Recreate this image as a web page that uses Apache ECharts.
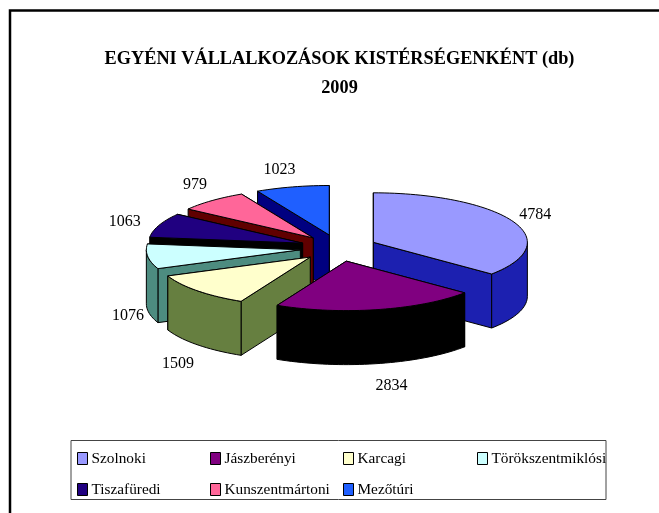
<!DOCTYPE html>
<html>
<head>
<meta charset="utf-8">
<title>Egyéni vállalkozások kistérségenként</title>
<style>
html, body { margin: 0; padding: 0; background: #fff; }
#main { width: 659px; height: 513px; }
</style>
<script src="https://cdn.jsdelivr.net/npm/echarts@6/dist/echarts.min.js"></script>
</head>
<body>
<div id="main"></div>
<script>
var categories = ['Szolnoki', 'Jászberényi', 'Karcagi', 'Törökszentmiklósi', 'Tiszafüredi', 'Kunszentmártoni', 'Mezőtúri'];
var values = [4784, 2834, 1509, 1076, 1063, 979, 1023];
var topColors = ['#9999FF', '#800080', '#FFFFCC', '#CCFFFF', '#200080', '#FF6699', '#1F5FFF'];
var sideColors = ['#1C20B0', '#000000', '#667F40', '#4D8C80', '#000000', '#600000', '#000080'];
var legendColumns = [
    ['Szolnoki', 'Tiszafüredi'],
    ['Jászberényi', 'Kunszentmártoni'],
    ['Karcagi', 'Mezőtúri'],
    ['Törökszentmiklósi']
];
var legendColumnX = [72, 205, 338, 472];

// pie geometry (tilted ellipse, exploded)
var cx = 338.5, cy = 248, rx = 154, ry = 49.5, depth = 54;
var explodeX = 38.5, explodeY = 13.4;
// label distance from centre, in radii, per slice
var labelK = [[1.41, 1.57], [1.69, 1.73], [1.42, 1.84], [1.38, 2], [1.49, 1.47], [1.42, 1.7], [1.6, 1.62]];
var fontFamily = '"Liberation Serif", serif';

var total = values.reduce(function (a, b) { return a + b; }, 0);
var starts = [];
var sum = 0;
values.forEach(function (v) {
    starts.push(echarts.number.linearMap(sum, [0, total], [0, 360]));
    sum += v;
});

function rad(d) { return d * Math.PI / 180; }

function rim(deg, ox, oy) {
    return [ox + rx * Math.sin(rad(deg)), oy - ry * Math.cos(rad(deg))];
}

function arcPoints(a0, a1, ox, oy) {
    var pts = [];
    var n = Math.max(2, Math.ceil((a1 - a0) / 2));
    for (var i = 0; i <= n; i++) {
        pts.push(rim(a0 + (a1 - a0) * i / n, ox, oy));
    }
    return pts;
}

function poly(points, fill) {
    return {
        type: 'polygon',
        shape: { points: points },
        style: { fill: fill, stroke: '#000', lineWidth: 1 }
    };
}

function renderSlice(i) {
    return function (params, api) {
        var a0 = starts[i];
        var a1 = a0 + api.value(0) / total * 360;
        var mid = (a0 + a1) / 2;
        var ox = cx + explodeX * Math.sin(rad(mid));
        var oy = cy - explodeY * Math.cos(rad(mid));
        var apex = [ox, oy];
        var apexLow = [ox, oy + depth];
        var children = [];

        // cut faces, the one turned to the viewer goes last
        var cuts = [a0, a1].sort(function (a, b) { return Math.cos(rad(b)) - Math.cos(rad(a)); });
        cuts.forEach(function (a) {
            var p = rim(a, ox, oy);
            children.push(poly([apex, p, [p[0], p[1] + depth], apexLow], sideColors[i]));
        });

        // outer wall, front half only
        var w0 = Math.max(a0, 90), w1 = Math.min(a1, 270);
        if (w1 > w0) {
            var upper = arcPoints(w0, w1, ox, oy);
            var lower = upper.map(function (p) { return [p[0], p[1] + depth]; }).reverse();
            children.push(poly(upper.concat(lower), sideColors[i]));
        }

        children.push(poly([apex].concat(arcPoints(a0, a1, ox, oy)), topColors[i]));

        var cosMid = Math.cos(rad(mid));
        children.push({
            type: 'text',
            style: {
                x: cx + rx * labelK[i][0] * Math.sin(rad(mid)),
                y: cy - ry * labelK[i][1] * cosMid + (cosMid < 0 ? depth : 0),
                text: String(api.value(0)),
                fill: '#000',
                font: '16px ' + fontFamily,
                align: 'center',
                verticalAlign: 'middle'
            }
        });
        return { type: 'group', children: children };
    };
}

// back slices first
var drawOrder = categories.map(function (c, i) { return i; }).sort(function (a, b) {
    var ma = starts[a] + values[a] / total * 180;
    var mb = starts[b] + values[b] / total * 180;
    return Math.cos(rad(mb)) - Math.cos(rad(ma));
});

var series = categories.map(function (name, i) {
    return {
        name: name,
        type: 'custom',
        coordinateSystem: 'none',
        silent: true,
        animation: false,
        z: 2 + drawOrder.indexOf(i),
        itemStyle: { color: topColors[i] },
        renderItem: renderSlice(i),
        data: [[values[i]]]
    };
});

var legends = legendColumns.map(function (col, i) {
    return {
        data: col,
        orient: 'vertical',
        left: legendColumnX[i],
        top: 446,
        itemWidth: 10,
        itemHeight: 12,
        itemGap: 16,
        selectedMode: false,
        icon: 'rect',
        itemStyle: { borderColor: '#000', borderWidth: 1 },
        textStyle: { fontFamily: fontFamily, fontSize: 15.3, color: '#000', padding: [0, 0, 0, -1] }
    };
});

var chart = echarts.init(document.getElementById('main'));
chart.setOption({
    backgroundColor: '#fff',
    animation: false,
    title: {
        text: 'EGYÉNI VÁLLALKOZÁSOK KISTÉRSÉGENKÉNT (db)\n2009',
        left: 334.5,
        top: 40,
        textAlign: 'center',
        textStyle: { fontFamily: fontFamily, fontSize: 18.3, fontWeight: 'bold', color: '#000', lineHeight: 29 }
    },
    legend: legends,
    graphic: [
        { type: 'rect', z: 0, shape: { x: 10, y: 10.5, width: 700, height: 600 }, style: { fill: 'none', stroke: '#000', lineWidth: 2.5 } },
        { type: 'rect', z: 0, shape: { x: 71, y: 440.5, width: 535, height: 59 }, style: { fill: '#fff', stroke: '#444', lineWidth: 1 } }
    ],
    series: series
});
</script>
</body>
</html>
